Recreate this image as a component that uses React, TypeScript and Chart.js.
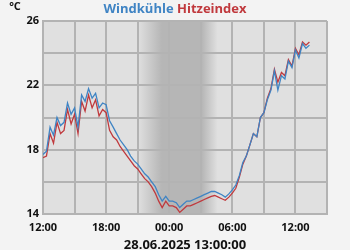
import React, { useEffect, useRef } from "react";
import { Chart, registerables } from "chart.js";

Chart.register(...registerables);

// hours since 00:00 on 27.06 (12 = 12:00, 36 = 12:00 next day)
const hours: number[] = [
  12.0, 12.33, 12.67, 13.0, 13.33, 13.67, 14.0, 14.33, 14.67, 15.0, 15.33, 15.67,
  16.0, 16.33, 16.67, 17.0, 17.33, 17.67, 18.0, 18.33, 18.67, 19.0, 19.33, 19.67,
  20.0, 20.33, 20.67, 21.0, 21.33, 21.67, 22.0, 22.33, 22.67, 23.0, 23.33, 23.67,
  24.0, 24.33, 24.67, 25.0, 25.33, 25.67, 26.0, 26.33, 26.67, 27.0, 27.33, 27.67,
  28.0, 28.33, 28.67, 29.0, 29.33, 29.67, 30.0, 30.33, 30.67, 31.0, 31.33, 31.67,
  32.0, 32.33, 32.67, 33.0, 33.33, 33.67, 34.0, 34.33, 34.67, 35.0, 35.33, 35.67,
  36.0, 36.33, 36.67, 37.0, 37.33,
];

const windkuehle: number[] = [
  17.7, 17.9, 19.4, 18.9, 20.0, 19.5, 19.7, 20.9, 20.2, 20.6, 19.4, 21.4,
  21.0, 21.8, 21.2, 21.5, 20.6, 20.9, 20.8, 19.8, 19.4, 19.0, 18.6, 18.3,
  18.0, 17.6, 17.3, 17.1, 16.8, 16.5, 16.3, 16.0, 15.7, 15.2, 14.8, 15.1,
  14.8, 14.8, 14.7, 14.4, 14.6, 14.8, 14.8, 14.9, 15.0, 15.1, 15.2, 15.3,
  15.4, 15.4, 15.3, 15.2, 15.05, 15.25, 15.5, 15.8, 16.4, 17.2, 17.6, 18.3,
  19.0, 18.8, 20.0, 20.3, 21.1, 21.7, 22.9, 21.7, 22.6, 22.4, 23.5, 23.1,
  24.2, 23.7, 24.6, 24.3, 24.5,
];

const hitzeindex: number[] = [
  17.5, 17.6, 19.0, 18.4, 19.7, 19.0, 19.2, 20.5, 19.6, 20.2, 19.0, 21.0,
  20.4, 21.4, 20.6, 21.1, 20.1, 20.5, 20.3, 19.2, 18.8, 18.6, 18.2, 17.9,
  17.6, 17.3, 17.0, 16.8, 16.5, 16.2, 16.0, 15.7, 15.3, 14.8, 14.4, 14.8,
  14.5, 14.5, 14.4, 14.1, 14.3, 14.5, 14.5, 14.6, 14.7, 14.8, 14.9, 15.0,
  15.1, 15.15, 15.05, 14.95, 14.85, 15.05, 15.3, 15.6, 16.3, 17.1, 17.6, 18.3,
  19.0, 18.8, 20.0, 20.3, 21.2, 21.8, 23.0, 22.2, 22.8, 22.6, 23.6, 23.2,
  24.3, 23.9, 24.7, 24.5, 24.7,
];

const titleParts = ["Windkühle", "Hitzeindex"];
const unitLabel = "°C";
const dateLabel = "28.06.2025 13:00:00";
// night shading (hours): start of dusk, full dark, end of full dark, end of dawn
const night = [21.0, 23.3, 27.1, 28.6];

const BLUE = "#3f84c4";
const RED = "#c0393d";

export default function App() {
  const ref = useRef<HTMLCanvasElement | null>(null);

  useEffect(() => {
    document.body.style.margin = "0";
    const canvas = ref.current!;
    const bgPlugin = {
      id: "bg",
      beforeDraw(chart: any) {
        const { ctx, chartArea } = chart;
        ctx.save();
        ctx.fillStyle = "#f3f3f3";
        ctx.fillRect(0, 0, chart.width, chart.height);
        const xs = chart.scales.x;
        const w = chartArea.right - chartArea.left;
        const f = (h: number) => (xs.getPixelForValue(h) - chartArea.left) / w;
        const g = ctx.createLinearGradient(chartArea.left, 0, chartArea.right, 0);
        const light = "#e0e0e0";
        const dark = "#b6b6b6";
        g.addColorStop(0, light);
        g.addColorStop(f(night[0]), light);
        g.addColorStop(f(night[1]), dark);
        g.addColorStop(f(night[2]), dark);
        g.addColorStop(f(night[3]), light);
        g.addColorStop(1, light);
        ctx.fillStyle = g;
        ctx.fillRect(chartArea.left, chartArea.top, w, chartArea.bottom - chartArea.top);
        ctx.restore();
      },
      afterDraw(chart: any) {
        const { ctx } = chart;
        ctx.save();
        ctx.font = "bold 13px 'Open Sans'";
        ctx.textBaseline = "middle";
        const sp = ctx.measureText(" ").width;
        const w1 = ctx.measureText(titleParts[0]).width;
        const w2 = ctx.measureText(titleParts[1]).width;
        let x = chart.width / 2 - (w1 + sp + w2) / 2;
        ctx.textAlign = "left";
        ctx.fillStyle = BLUE;
        ctx.fillText(titleParts[0], x, 9);
        x += w1 + sp;
        ctx.fillStyle = RED;
        ctx.fillText(titleParts[1], x, 9);
        ctx.font = "bold 11px 'Open Sans'";
        ctx.fillStyle = "#111";
        ctx.textAlign = "center";
        ctx.fillText(unitLabel, 15, 7);
        ctx.restore();
      },
    };

    const chart = new Chart(canvas, {
      type: "line",
      data: {
        datasets: [
          {
            label: titleParts[0],
            data: hours.map((h, i) => ({ x: h, y: windkuehle[i] })),
            borderColor: BLUE,
            borderWidth: 1.3,
            pointRadius: 0,
            tension: 0,
          },
          {
            label: titleParts[1],
            data: hours.map((h, i) => ({ x: h, y: hitzeindex[i] })),
            borderColor: RED,
            borderWidth: 1.3,
            pointRadius: 0,
            tension: 0,
          },
        ],
      },
      options: {
        animation: false,
        responsive: false,
        devicePixelRatio: 1,
        layout: { padding: { top: 21, right: 23, left: 0, bottom: 0 } },
        plugins: { legend: { display: false }, title: { display: false }, tooltip: { enabled: false } },
        scales: {
          x: {
            type: "linear",
            min: 12,
            max: 39,
            border: { color: "#b3b3b3", width: 2 },
            grid: { color: "#b3b3b3", lineWidth: 2, drawTicks: false },
            ticks: {
              stepSize: 3,
              padding: 7,
              color: "#111",
              font: { family: "'Open Sans'", size: 11, weight: "bold" },
              maxRotation: 0,
              autoSkip: false,
              callback: (v: any) => {
                const n = Number(v);
                if ((n - 12) % 6 !== 0) return "";
                const hh = ((n % 24) + 24) % 24;
                return String(hh).padStart(2, "0") + ":00";
              },
            },
            title: {
              display: true,
              text: dateLabel,
              color: "#111",
              font: { family: "'Open Sans'", size: 13, weight: "bold" },
              padding: { top: 0, bottom: -3 },
            },
            afterFit: (s: any) => {
              s.height = 36;
            },
          },
          y: {
            min: 14,
            max: 26,
            border: { color: "#b3b3b3", width: 2 },
            grid: { color: "#b3b3b3", lineWidth: 2, drawTicks: false },
            ticks: {
              stepSize: 2,
              padding: 4,
              color: "#111",
              font: { family: "'Open Sans'", size: 11, weight: "bold" },
              callback: (v: any) => (Number(v) % 4 === 2 ? String(v) : ""),
            },
            afterFit: (s: any) => {
              s.width = 43;
            },
          },
        },
      },
      plugins: [bgPlugin],
    } as any);
    return () => chart.destroy();
  }, []);

  return (
    <div style={{ width: 350, height: 250 }}>
      <canvas ref={ref} width={350} height={250} style={{ display: "block" }} />
    </div>
  );
}
